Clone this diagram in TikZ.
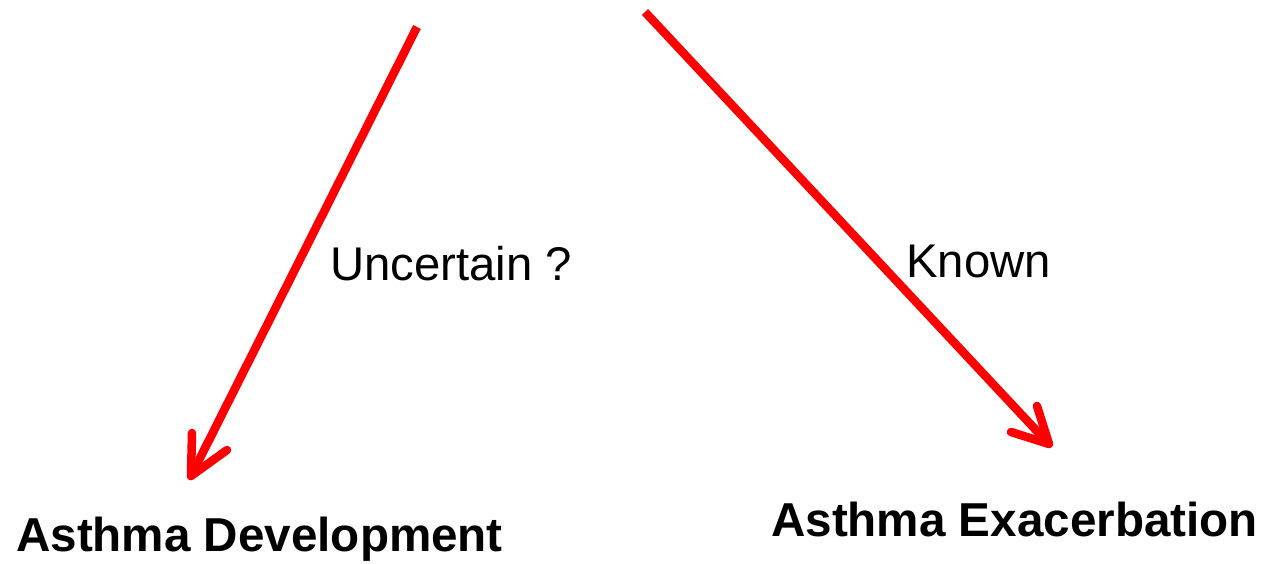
\documentclass[tikz,border=0pt]{standalone}
\usepackage{fontspec}
\setmainfont{Liberation Sans}
\begin{document}
\begin{tikzpicture}[x=1pt,y=-1pt,
  shaft/.style={draw=red,line width=8.5pt,line cap=butt},
  barb/.style={draw=red,line width=8.5pt,line cap=round,line join=round},
  lbl/.style={inner sep=0pt,anchor=base west,font=\fontsize{47.3}{56}\selectfont},
  title/.style={lbl,font=\fontsize{47.6}{56}\selectfont\bfseries}]
\useasboundingbox (0,0) rectangle (1264,563);
% arrow towards asthma development
\coordinate (s1) at (417,27);
\coordinate (t1) at (191,476);
\coordinate (b1a) at (192,433);
\coordinate (b1b) at (227,450);
\draw[shaft] (s1) -- (t1);
\draw[barb] (b1a) -- (t1) -- (b1b);
% arrow towards asthma exacerbation
\coordinate (s2) at (645,12);
\coordinate (t2) at (1049,444);
\coordinate (b2a) at (1037,406);
\coordinate (b2b) at (1011,432);
\draw[shaft] (s2) -- (t2);
\draw[barb] (b2a) -- (t2) -- (b2b);
% labels
\node[lbl] (unc) at (330,280) {Uncertain ?};
\node[lbl] (kn) at (906,277) {Known};
\node[title] (dev) at (16,551) {Asthma Development};
\node[title] (exa) at (771,536) {Asthma Exacerbation};
\end{tikzpicture}
\end{document}
